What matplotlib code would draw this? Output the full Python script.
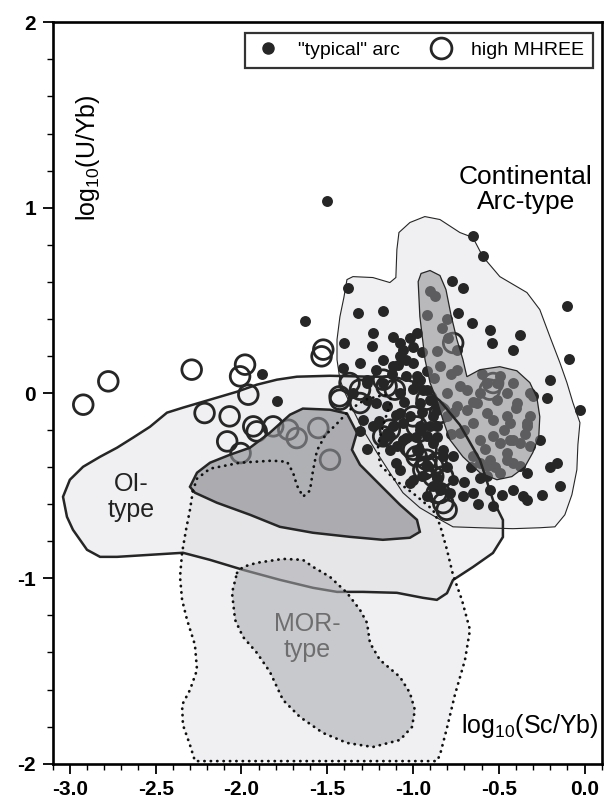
import matplotlib
matplotlib.use("Agg")
import matplotlib.pyplot as plt
from matplotlib.lines import Line2D
import numpy as np

plt.rcParams["font.family"] = ["Liberation Sans", "DejaVu Sans"]
plt.rcParams["mathtext.fontset"] = "custom"
plt.rcParams["mathtext.rm"] = "Liberation Sans"
plt.rcParams["mathtext.default"] = "regular"
plt.rcParams["axes.unicode_minus"] = False

# Field outlines (log10(Sc/Yb), log10(U/Yb))
oi_outer_x = [-3.040, -3.000, -2.923, -2.824, -2.725, -2.632, -2.533, -2.434, -2.341, -2.242,
              -2.143, -2.026, -1.910, -1.793, -1.677, -1.484, -1.251, -1.117, -0.977, -0.843,
              -0.727, -0.610, -0.534, -0.476, -0.476, -0.534, -0.651, -0.767, -0.802, -0.861,
              -0.942, -1.094, -1.292, -1.443, -1.583, -1.776, -1.991, -2.184, -2.341, -2.533,
              -2.725, -2.824, -2.900, -2.941, -2.982, -3.017]
oi_outer_y = [-0.560, -0.468, -0.398, -0.344, -0.295, -0.241, -0.182, -0.106, -0.079, -0.052,
              -0.025, 0.007, 0.045, 0.072, 0.088, 0.093, 0.088, 0.088, 0.056, -0.042,
              -0.172, -0.361, -0.577, -0.685, -0.777, -0.863, -0.939, -1.009, -1.080, -1.116,
              -1.105, -1.078, -1.073, -1.073, -1.051, -1.008, -0.954, -0.900, -0.862, -0.873,
              -0.884, -0.884, -0.846, -0.792, -0.738, -0.668]

oi_inner_x = [-2.300, -2.259, -2.183, -2.067, -1.950, -1.834, -1.717, -1.642, -1.484, -1.385,
              -1.327, -1.356, -1.309, -1.210, -1.076, -0.977, -0.960, -1.018, -1.176, -1.368,
              -1.583, -1.776, -1.950, -2.143, -2.271]
oi_inner_y = [-0.506, -0.430, -0.376, -0.333, -0.295, -0.214, -0.117, -0.084, -0.090, -0.111,
              -0.214, -0.306, -0.387, -0.479, -0.603, -0.684, -0.749, -0.781, -0.792, -0.776,
              -0.754, -0.722, -0.657, -0.592, -0.538]

mor_outer_x = [-2.283, -2.259, -2.183, -2.008, -1.822, -1.734, -1.699, -1.676, -1.641, -1.601,
               -1.583, -1.560, -1.513, -1.438, -1.368, -1.280, -1.164, -1.123, -1.164, -1.205,
               -1.193, -1.106, -0.989, -0.884, -0.843, -0.802, -0.767, -0.715, -0.668, -0.697,
               -0.756, -0.802, -0.843, -0.861, -2.271, -2.300, -2.341, -2.346, -2.300, -2.259,
               -2.271, -2.317, -2.346, -2.358, -2.346, -2.323, -2.300]
mor_outer_y = [-0.528, -0.462, -0.408, -0.376, -0.365, -0.371, -0.430, -0.500, -0.559, -0.527,
               -0.419, -0.311, -0.230, -0.160, -0.090, -0.036, -0.009, -0.036, -0.144, -0.279,
               -0.387, -0.468, -0.549, -0.630, -0.711, -0.846, -0.981, -1.116, -1.278, -1.440,
               -1.629, -1.807, -1.953, -1.986, -1.986, -1.899, -1.791, -1.683, -1.602, -1.494,
               -1.359, -1.224, -1.116, -0.992, -0.862, -0.738, -0.630]

mor_inner_x = [-2.026, -1.991, -1.910, -1.758, -1.642, -1.583, -1.484, -1.385, -1.309, -1.268,
               -1.251, -1.193, -1.076, -1.018, -0.989, -1.006, -1.076, -1.234, -1.385, -1.525,
               -1.659, -1.758, -1.834, -1.910, -1.991, -2.037, -2.055]
mor_inner_y = [-0.971, -0.938, -0.916, -0.895, -0.900, -0.938, -0.992, -1.078, -1.170, -1.240,
               -1.348, -1.440, -1.532, -1.618, -1.710, -1.802, -1.872, -1.910, -1.888, -1.834,
               -1.748, -1.656, -1.505, -1.402, -1.316, -1.224, -1.078]

cont_outer_x = [-1.385, -1.350, -1.234, -1.135, -1.100, -1.094, -1.082, -1.018, -0.931, -0.843,
                -0.727, -0.651, -0.593, -0.494, -0.336, -0.261, -0.202, -0.144, -0.103, -0.068,
                -0.027, -0.039, -0.045, -0.074, -0.115, -0.173, -0.261, -0.418, -0.610, -0.767,
                -0.861, -0.960, -1.059, -1.135, -1.210, -1.292, -1.350, -1.397, -1.426, -1.443,
                -1.443, -1.426, -1.403]
cont_outer_y = [0.612, 0.628, 0.623, 0.596, 0.623, 0.774, 0.866, 0.920, 0.952, 0.936,
                0.866, 0.839, 0.736, 0.628, 0.542, 0.450, 0.304, 0.164, 0.056, -0.052,
                -0.160, -0.279, -0.414, -0.549, -0.657, -0.722, -0.727, -0.732, -0.727, -0.722,
                -0.673, -0.619, -0.538, -0.430, -0.322, -0.198, -0.090, 0.002, 0.072, 0.180,
                0.288, 0.412, 0.515]

cont_inner_x = [-0.970, -0.953, -0.901, -0.843, -0.808, -0.779, -0.744, -0.709, -0.686, -0.610,
                -0.494, -0.395, -0.319, -0.278, -0.261, -0.267, -0.302, -0.348, -0.424, -0.511,
                -0.610, -0.709, -0.785, -0.826, -0.861, -0.901, -0.930, -0.960]
cont_inner_y = [0.601, 0.645, 0.661, 0.634, 0.558, 0.423, 0.288, 0.180, 0.088, 0.126,
                0.142, 0.120, 0.056, -0.025, -0.128, -0.236, -0.322, -0.398, -0.451, -0.468,
                -0.430, -0.344, -0.252, -0.144, -0.036, 0.056, 0.180, 0.412]

# "typical" arc samples
arc_x = [-1.503, -0.649, -0.594, -0.105, -0.090, -1.378, -1.319, -1.174, -1.630, -1.232,
         -1.404, -1.241, -1.076, -1.018, -0.979, -0.775, -0.708, -0.737, -0.659, -0.552,
         -0.377, -0.542, -0.416, -0.202, -0.221, -0.027, -0.260, -0.163, -0.144, -1.407,
         -1.309, -1.174, -1.076, -0.999, -1.038, -0.960, -0.921, -0.901, -0.862, -1.076,
         -1.174, -1.213, -1.018, -1.115, -1.057, -1.135, -0.979, -0.882, -0.824, -0.921,
         -1.076, -1.018, -0.882, -0.785, -0.649, -0.610, -0.455, -0.338, -0.435, -1.348,
         -1.270, -1.882, -1.794, -1.086, -1.038, -0.979, -0.940, -1.270, -1.290, -1.309,
         -1.057, -1.135, -1.096, -0.921, -0.882, -0.843, -0.921, -1.154, -1.038, -0.960,
         -0.804, -0.824, -0.766, -0.999, -0.843, -0.766, -0.707, -0.571, -0.552, -0.533,
         -0.416, -0.358, -0.338, -0.377, -0.338, -1.115, -1.057, -1.115, -0.979, -1.213,
         -1.270, -1.154, -0.960, -1.076, -0.862, -1.232, -1.174, -0.960, -1.270,
         -1.000, -0.950, -0.920, -0.880, -1.120, -1.000, -0.950, -0.900, -1.050, -1.100,
         -0.980, -0.860, -0.800, -0.860, -0.950, -1.100, -1.200, -0.780, -0.700, -0.660,
         -0.620, -0.480, -0.250, -0.200,
         -0.872, -0.921, -0.795, -0.862, -0.746, -0.843, -0.746, -0.571, -0.494, -0.416,
         -0.319, -0.688, -0.804, -0.746, -0.629, -0.513, -0.396, -0.649, -0.533, -0.435,
         -0.319, -0.727, -0.610, -0.494, -0.377, -0.649, -0.552, -0.416, -0.494, -0.571,
         -0.727, -0.610, -0.513, -0.300, -0.688, -0.571, -0.455, -0.338, -0.533, -0.416,
         -0.319, -0.455, -0.610, -0.700, -0.650, -0.600, -0.450, -0.400, -0.350, -0.470,
         -0.580, -0.520, -0.760, -0.800, -0.830, -0.900, -0.780]
arc_y = [1.035, 0.846, 0.741, 0.468, 0.184, 0.567, 0.432, 0.441, 0.387, 0.324,
         0.270, 0.252, 0.270, 0.297, 0.324, 0.603, 0.567, 0.432, 0.378, 0.342,
         0.315, 0.270, 0.234, 0.072, -0.027, -0.090, -0.252, -0.378, -0.504, 0.135,
         0.162, 0.180, 0.198, 0.162, 0.090, 0.072, 0.018, -0.036, -0.090, 0.000,
         0.054, -0.054, -0.126, -0.180, -0.252, -0.306, -0.306, -0.270, -0.342, -0.396,
         -0.414, -0.486, -0.504, -0.540, -0.540, -0.459, -0.324, -0.180, -0.252, 0.000,
         -0.036, 0.104, -0.042, 0.153, 0.180, 0.090, 0.018, 0.054, -0.144, -0.207,
         -0.162, -0.234, -0.288, -0.234, -0.126, -0.072, -0.558, -0.216, -0.243, -0.198,
         -0.126, -0.306, -0.342, -0.468, -0.522, -0.468, -0.558, -0.396, -0.522, -0.612,
         -0.522, -0.558, -0.576, -0.396, -0.432, 0.304, 0.234, 0.144, 0.056, 0.126,
         0.072, -0.072, -0.054, -0.108, -0.180, -0.180, -0.252, -0.180, -0.300,
         0.250, 0.220, 0.120, 0.080, 0.100, 0.020, -0.100, -0.180, -0.050, -0.120,
         -0.240, -0.240, -0.400, -0.460, -0.450, -0.380, -0.150, -0.220, -0.480, -0.400,
         -0.600, -0.550, -0.550, -0.400,
         0.522, 0.423, 0.297, 0.225, 0.234, 0.144, 0.126, 0.054, 0.090, 0.054,
         0.000, 0.018, 0.000, -0.072, -0.054, -0.036, -0.054, -0.162, -0.144, -0.162,
         -0.126, -0.216, -0.252, -0.270, -0.270, -0.342, -0.360, -0.378, -0.432, -0.450,
         0.036, 0.000, 0.054, -0.018, -0.090, -0.108, -0.126, -0.162, -0.234, -0.252,
         -0.288, -0.360, -0.378, -0.200, -0.050, 0.100, 0.000, -0.080, -0.220, -0.200,
         -0.300, -0.400, -0.100, 0.400, 0.350, 0.550, 0.100]

# high MHREE samples
mhree_x = [-2.922, -2.776, -2.290, -2.008, -1.979, -1.960, -2.215, -2.069, -1.931, -1.911,
           -2.083, -2.005, -1.815, -1.727, -1.678, -1.552, -1.484, -1.523, -1.533, -1.428,
           -1.309, -1.174, -1.106, -1.174, -0.979, -0.999, -0.921, -0.882, -0.940, -0.862,
           -0.824, -0.766, -0.552, -0.533, -1.154, -1.370, -1.426, -1.309, -0.999, -1.135,
           -1.018, -0.979, -0.921, -0.921, -0.882, -0.921, -0.843, -0.862, -0.824, -0.843,
           -0.804]
mhree_y = [-0.063, 0.063, 0.126, 0.090, 0.153, -0.009, -0.108, -0.126, -0.180, -0.207,
           -0.261, -0.324, -0.180, -0.198, -0.243, -0.189, -0.360, 0.234, 0.198, -0.018,
           0.018, 0.072, 0.018, -0.234, -0.180, -0.306, -0.360, -0.396, -0.414, -0.540,
           -0.594, 0.270, 0.018, 0.054, 0.036, 0.054, -0.036, -0.054, -0.126, -0.198,
           -0.288, -0.342, -0.306, -0.396, -0.450, -0.036, -0.108, -0.378, -0.450, -0.540,
           -0.630]

x_ticks = [-3.0, -2.5, -2.0, -1.5, -1.0, -0.5, 0.0]
y_ticks = [-2, -1, 0, 1, 2]

dark = "#262626"
dot_style = (0, (0.1, 2.2))

fig = plt.figure(figsize=(6.08, 8.09), dpi=100)
ax = fig.add_axes([0.0867, 0.0560, 0.9030, 0.9164])

# light outer fields
for xs, ys in [(oi_outer_x, oi_outer_y), (mor_outer_x, mor_outer_y), (cont_outer_x, cont_outer_y)]:
    ax.fill(xs, ys, color="#d2d4d9", alpha=0.33, lw=0, zorder=1)
ax.fill(cont_outer_x, cont_outer_y, fc="none", ec=dark, lw=0.8, zorder=2)

# samples
ax.scatter(arc_x, arc_y, s=62, color=dark, lw=0, zorder=3)
ax.scatter(mhree_x, mhree_y, s=200, facecolors="none", edgecolors=dark, lw=2.0, zorder=3)

# darker cores sit over the samples
ax.fill(oi_inner_x, oi_inner_y, color="#8d8e92", alpha=0.65, lw=0, zorder=4)
ax.fill(cont_inner_x, cont_inner_y, color="#8c8c8f", alpha=0.55, lw=0, zorder=4)
ax.fill(oi_outer_x, oi_outer_y, fc="none", ec=dark, lw=1.8, zorder=4.2)
ax.fill(mor_inner_x, mor_inner_y, color="#a8a9ad", alpha=0.55, lw=0, zorder=4.5)
ax.fill(oi_inner_x, oi_inner_y, fc="none", ec=dark, lw=1.8, zorder=5)
ax.fill(cont_inner_x, cont_inner_y, fc="none", ec=dark, lw=0.9, zorder=5)
for xs, ys in [(mor_outer_x, mor_outer_y), (mor_inner_x, mor_inner_y)]:
    ax.plot(xs + xs[:1], ys + ys[:1], color="#111111", lw=2.0, ls=dot_style,
            dash_capstyle="round", zorder=6)

# labels inside the plot
ax.text(-0.342, 1.098, "Continental\nArc-type", fontsize=19, ha="center", va="center",
        linespacing=1.1, zorder=7)
ax.text(-2.644, -0.560, "OI-\ntype", fontsize=18, ha="center", va="center",
        linespacing=1.1, color="#222222", zorder=7)
ax.text(-1.618, -1.316, "MOR-\ntype", fontsize=18, ha="center", va="center",
        linespacing=1.1, color="#6e6e6e", zorder=7)
ax.text(-2.894, 1.270, "$log_{10}$(U/Yb)", fontsize=18, rotation=90, ha="center",
        va="center", zorder=7)
ax.text(0.085, -1.834, "$log_{10}$(Sc/Yb)", fontsize=18, ha="right", va="baseline", zorder=7)

# legend
handles = [Line2D([], [], ls="none", marker="o", ms=8, color=dark),
           Line2D([], [], ls="none", marker="o", ms=15, mfc="none", mec=dark, mew=2.0)]
leg = ax.legend(handles, ['"typical" arc', "high MHREE"], ncol=2, loc="upper left",
                bbox_to_anchor=(0.350, 0.929, 0.634, 0.057), mode="expand",
                borderaxespad=0, fontsize=14, frameon=True, fancybox=False,
                handletextpad=0.8, handlelength=1.5, borderpad=0.45)
leg.get_frame().set_edgecolor("black")
leg.get_frame().set_linewidth(1.6)
leg.set_zorder(8)

ax.set_xlim(-3.1, 0.1)
ax.set_ylim(-2, 2)
ax.set_xticks(x_ticks)
ax.set_xticklabels([f"{v:.1f}" for v in x_ticks])
ax.set_xticks(np.arange(-3.1, 0.11, 0.1), minor=True)
ax.set_yticks(y_ticks)
ax.set_yticklabels([str(v) for v in y_ticks])
ax.set_yticks(np.arange(-2, 2.01, 0.2), minor=True)
for lab in ax.get_xticklabels() + ax.get_yticklabels():
    lab.set_fontweight("bold")
ax.tick_params(which="major", length=7, width=1.3, labelsize=15, pad=5, direction="out")
ax.tick_params(which="minor", length=4.5, width=1.0, direction="out")
for sp in ax.spines.values():
    sp.set_linewidth(1.9)

fig.savefig("out.png", dpi=100)
